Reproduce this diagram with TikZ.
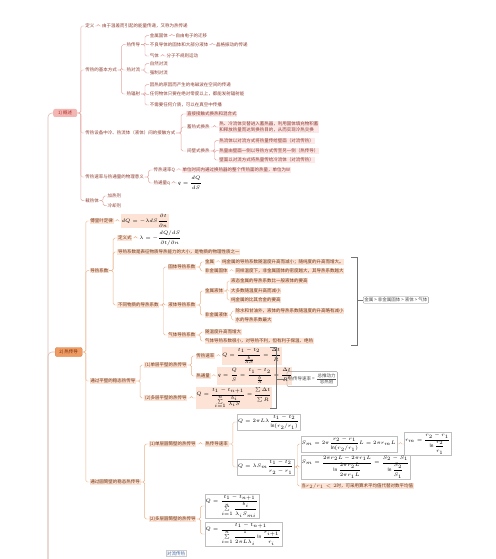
\documentclass[tikz,border=0pt]{standalone}
\usepackage{amsmath}
\usepackage{fontspec}
\setmainfont{Noto Sans CJK SC}
\usetikzlibrary{calc,fit}
\definecolor{s1t}{HTML}{8E3B2F}
\definecolor{s1l}{HTML}{E4A6A2}
\definecolor{s1f}{HTML}{FCE8E7}
\definecolor{s2t}{HTML}{6E3312}
\definecolor{s2l}{HTML}{EAB38B}
\definecolor{s2f}{HTML}{FCE3D5}
\definecolor{h1f}{HTML}{F4B6B2}
\definecolor{h1t}{HTML}{B0302A}
\definecolor{h2f}{HTML}{EE9B63}
\definecolor{h2d}{HTML}{D9773A}
\definecolor{h2t}{HTML}{7A2A05}
\definecolor{trk}{HTML}{DCBDB4}
\definecolor{blu}{HTML}{3A5FA0}
\newcommand{\fs}{\fontsize{4.5}{5.4}\selectfont}
\newcommand{\ff}{\fontsize{4.4}{5.2}\selectfont}
% child node placed right of parent, at absolute y, with connector
\newcommand{\kid}[6][8]{%
  \path let \p1=($(#4.east)+(#1,0)$) in node[#2,anchor=west] (#3) at (\x1,-#5pt) {#6};
  \draw[lnk] (#4.east) -- ++({#1/2},0) |- (#3.west);}
\begin{document}
\begin{tikzpicture}[x=1pt,y=-1pt,
  t1/.style={font=\fs,text=s1t,inner sep=0.7pt},
  p1/.style={t1,fill=s1f},
  p2/.style={font=\fs,text=s2t,fill=s2f,inner sep=0.7pt},
  fm/.style={font=\ff,text=black,inner sep=0.6pt},
  pf/.style={fm,fill=s2f},
  fb/.style={fm,fill=white,draw=black!25,line width=0.3pt,inner sep=1pt},
  hd1/.style={font=\fs,text=h1t,fill=h1f,rounded corners=2pt,minimum width=24pt,minimum height=8pt,inner sep=1pt,anchor=west},
  hd2/.style={font=\fs,text=h2t,fill=h2f,draw=h2d,line width=0.4pt,rounded corners=2pt,minimum width=27pt,minimum height=9pt,inner sep=1pt,anchor=west},
  sbox/.style={font=\fs,text=black!70,fill=white,draw=black!45,line width=0.35pt,rounded corners=1pt,inner sep=1.2pt,anchor=west},
  trunk/.style={draw=trk,line width=0.6pt,rounded corners=4pt},
  brk/.style={draw=black!55,line width=0.45pt}]
\useasboundingbox (0,0) rectangle (495,559);
\fill[white] (0,0) rectangle (495,559);

% ---------------- root trunk
\coordinate (root) at (48,580);
\node[hd1] (n1) at (53,113) {1) 概述};
\node[hd2] (n2) at (55,352) {2) 热传导};
\draw[trunk] (n1.west) -| (root);
\draw[trunk] (n2.west) -| (root);

% ---------------- section 1
\begin{scope}[lnk/.style={draw=s1l,line width=0.45pt,rounded corners=1.5pt}]
\kid[7]{t1}{a1}{n1}{26}{定义}
\kid[6]{t1}{a1c}{a1}{26}{由于温差而引起的能量传递，又称为热传递}
\kid[7]{t1}{a2}{n1}{70}{传热的基本方式}
\kid[8]{t1}{b1}{a2}{44.7}{热传导}
\kid[8]{t1}{c1}{b1}{35.7}{金属固体}
\kid[6]{t1}{c1c}{c1}{35.7}{自由电子的迁移}
\kid[8]{t1}{c2}{b1}{44.7}{不良导体的固体和大部分液体}
\kid[6]{t1}{c2c}{c2}{44.7}{晶格振动的传递}
\kid[8]{t1}{c3}{b1}{56}{气体}
\kid[6]{t1}{c3c}{c3}{56}{分子不规则运动}
\kid[8]{t1}{b2}{a2}{70}{热对流}
\kid[8]{t1}{c4}{b2}{63.7}{自然对流}
\kid[8]{t1}{c5}{b2}{73}{强制对流}
\kid[8]{t1}{b3}{a2}{94}{热辐射}
\kid[8]{t1}{c6}{b3}{84.7}{因热的原因而产生的电磁波在空间的传递}
\kid[8]{t1}{c7}{b3}{94.3}{任何物体只要在绝对零度以上，都能发射辐射能}
\kid[8]{t1}{c8}{b3}{105}{不需要任何介质，可以在真空中传播}
\kid[7]{t1}{a3}{n1}{133}{传热设备中冷、热流体（液体）间的接触方式}
\kid[10]{p1}{b4}{a3}{114}{直接接触式换热和混合式}
\kid[10]{t1}{b5}{a3}{127}{蓄热式换热}
\kid[8]{p1,align=left}{c9}{b5}{127}{热、冷流体交替进入蓄热器，利用固体填充物积蓄\\和释放热量而达到换热目的，从而实现冷热交换}
\kid[10]{t1}{b6}{a3}{151}{间壁式换热}
\kid[8]{p1}{c10}{b6}{140.7}{热流体以对流方式将热量传给壁面（对流传热）}
\kid[8]{p1}{c11}{b6}{150.7}{热量由壁面一侧以导热方式传至另一侧（热传导）}
\kid[8]{p1}{c12}{b6}{160}{壁面以对流方式将热量传给冷流体（对流传热）}
\kid[7]{t1}{a4}{n1}{177}{传热速率与热通量的物理意义}
\kid[8]{t1}{b7}{a4}{170}{传热速率Q}
\kid[6]{p1}{b7c}{b7}{170}{单位时间内通过换热器的整个传热面的热量，单位为W}
\kid[8]{t1}{b8}{a4}{183}{热通量q}
\kid[6]{fm}{b8c}{b8}{183}{$q=\dfrac{dQ}{dS}$}
\kid[7]{t1}{a5}{n1}{200.7}{载热体}
\kid[7]{t1}{b9}{a5}{196}{加热剂}
\kid[7]{t1}{b10}{a5}{205.7}{冷却剂}
\end{scope}

% ---------------- section 2
\begin{scope}[lnk/.style={draw=s2l,line width=0.45pt,rounded corners=1.5pt}]
\kid[7]{p2}{d1}{n2}{221}{傅里叶定律}
\kid[7]{pf}{d1c}{d1}{221}{$dQ=-\lambda dS\dfrac{\partial t}{\partial n}$}
\kid[7]{p2}{d2}{n2}{270.7}{导热系数}
\kid[8]{p2}{e1}{d2}{238}{定义式}
\kid[6]{fm}{e1c}{e1}{238}{$\lambda=-\dfrac{dQ/dS}{\partial t/\partial n}$}
\kid[8]{p2}{e2}{d2}{252}{导热系数是表征物质导热能力的大小，是物质的物理性质之一}
\kid[8]{p2}{e3}{d2}{305}{不同物质的导热系数}
\kid[8]{p2}{f1}{e3}{267}{固体导热系数}
\kid[8]{p2}{g1}{f1}{262}{金属}
\kid[6]{p2}{g1c}{g1}{262}{纯金属的导热系数随温度升高而减小；随纯度的升高而增大。}
\kid[8]{p2}{g2}{f1}{271}{非金属固体}
\kid[6]{p2}{g2c}{g2}{271}{同样温度下，非金属固体的密度越大，其导热系数越大}
\kid[8]{p2}{f2}{e3}{305}{液体导热系数}
\kid[8]{p2}{g3}{f2}{291}{金属液体}
\kid[6]{p2}{h1}{g3}{281}{液态金属的导热系数比一般液体的要高}
\kid[6]{p2}{h2}{g3}{291}{大多数随温度升高而减小}
\kid[6]{p2}{h3}{g3}{300}{纯金属的比其合金的要高}
\kid[8]{p2}{g4}{f2}{315}{非金属液体}
\kid[6]{p2}{h4}{g4}{311}{除水和甘油外，液体的导热系数随温度的升高略有减小}
\kid[6]{p2}{h5}{g4}{320}{水的导热系数最大}
\kid[8]{p2}{f3}{e3}{335}{气体导热系数}
\kid[8]{p2}{g5}{f3}{332}{随温度升高而增大}
\kid[8]{p2}{g6}{f3}{341}{气体导热系数很小，对导热不利，但有利于保温、绝热}
% summary bracket 1
\coordinate (k1t) at (351,257);
\coordinate (k1b) at (351,345);
\coordinate (k1m) at (357,300);
\draw[brk] (k1t) -- ++(6,0) -- (357,345) -- (k1b);
\node[sbox] (sum1) at (363,300) {金属 > 非金属固体 > 液体 > 气体};
\draw[brk] (k1m) -- (sum1.west);

\kid[7]{p2}{d3}{n2}{381}{通过平壁的稳态热传导}
\kid[8]{p2}{e4}{d3}{365}{(1)单层平壁的热传导}
\kid[8]{p2}{f4}{e4}{356}{传热速率}
\kid[6]{pf}{f4c}{f4}{356}{$Q=\dfrac{t_1-t_2}{\frac{b}{\lambda S}}=\dfrac{\Delta t}{R}$}
\kid[8]{p2}{f5}{e4}{376}{热通量}
\kid[6]{pf}{f5c}{f5}{376}{$q=\dfrac{Q}{S}=\dfrac{t_1-t_2}{\frac{b}{\lambda}}=\dfrac{\Delta t}{R'}$}
\kid[8]{p2}{e5}{d3}{398}{(2)多层平壁的热传导}
\kid[8]{pf}{f6}{e5}{398}{$Q=\dfrac{t_1-t_{n+1}}{\sum\limits_{i=1}^{n}\frac{b_i}{\lambda_i S}}=\dfrac{\sum\Delta t}{\sum R}$}
% summary bracket 2
\coordinate (k2t) at (270,347);
\coordinate (k2b) at (270,408);
\coordinate (k2m) at (276,379);
\draw[brk] (k2t) -- ++(6,0) -- (276,408) -- (k2b);
\node[font=\fs,text=black!70,inner sep=0.5pt,anchor=west] (s2a) at (288,379) {热传导速率 =};
\node[font=\fs,text=black!70,inner sep=0.3pt,anchor=west] (s2b) at ([xshift=1pt]s2a.east) {\renewcommand{\arraystretch}{1.05}\setlength{\tabcolsep}{0.6pt}\begin{tabular}{c}总推动力\\\hline 总热阻\end{tabular}};
\node[fit=(s2a)(s2b),draw=black!45,line width=0.35pt,rounded corners=1pt,inner sep=1pt] (sum2) {};
\draw[brk] (k2m) -- (sum2.west);

\kid[7]{p2}{d4}{n2}{482}{通过圆筒壁的稳态热传导}
\kid[8]{p2}{e6}{d4}{444}{(1)单层圆筒壁的热传导}
\kid[8]{p2}{e6c}{e6}{444}{热传导速率}
\kid[8]{fb}{f7}{e6c}{422}{$Q=2\pi L\lambda\dfrac{t_1-t_2}{\ln(r_2/r_1)}$}
\kid[8]{fb}{f8}{e6c}{467}{$Q=\lambda S_m\dfrac{t_1-t_2}{r_2-r_1}$}
\kid[6]{fb}{g7}{f8}{444}{$S_m=2\pi\dfrac{r_2-r_1}{\ln(r_2/r_1)}L=2\pi r_mL$}
\kid[7]{fb}{g7c}{g7}{444}{$r_m=\dfrac{r_2-r_1}{\ln\dfrac{r_2}{r_1}}$}
\kid[6]{fb}{g8}{f8}{467}{$S_m=\dfrac{2\pi r_2L-2\pi r_1L}{\ln\dfrac{2\pi r_2L}{2\pi r_1L}}=\dfrac{S_2-S_1}{\ln\dfrac{S_2}{S_1}}$}
\kid[6]{p2}{g9}{f8}{486}{当$r_2/r_1<2$时，可采用算术平均值代替对数平均值}
\kid[8]{p2}{e7}{d4}{519}{(2)多层圆筒壁的热传导}
\kid[8]{fb}{f9}{e7}{506}{$Q=\dfrac{t_1-t_{n+1}}{\sum\limits_{i=1}^{n}\dfrac{b_i}{\lambda_i S_{mi}}}$}
\kid[8]{fb}{f10}{e7}{534}{$Q=\dfrac{t_1-t_{n+1}}{\sum\limits_{i=1}^{n}\dfrac{1}{2\pi L\lambda_i}\ln\dfrac{r_{i+1}}{r_i}}$}
\end{scope}

% node at the bottom edge
\node[font=\fs,text=blu,fill=white,draw=black!20,line width=0.3pt,inner sep=1pt,anchor=west] (n3) at (166,553.5) {对流传热};
\end{tikzpicture}
\end{document}
